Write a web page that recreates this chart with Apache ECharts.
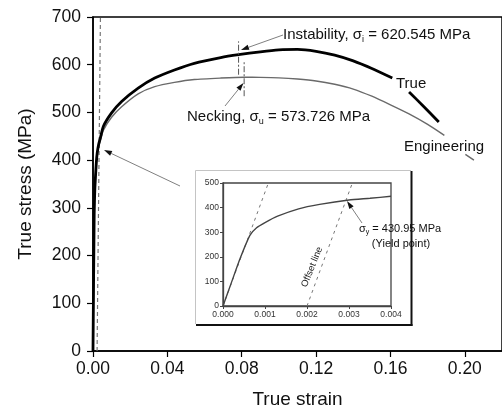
<!DOCTYPE html>
<html><head><meta charset="utf-8">
<script src="https://cdn.jsdelivr.net/npm/echarts@6/dist/echarts.min.js"></script>
<style>html,body{margin:0;padding:0;background:#fff}#c{width:502px;height:414px}</style>
</head><body><div id="c"></div>
<script>
const FONT = '"Liberation Sans", Arial, Helvetica, sans-serif';

// ---- data (strain, stress in MPa); null = gap for label ----
const trueStrain = [0, 0.00064, 0.001, 0.0018, 0.0023, 0.003, 0.004, 0.0056, 0.010, 0.0154, 0.0243, 0.0332, 0.0438, 0.0545, 0.0687, 0.0783, 0.090, 0.100, 0.110, 0.120, 0.130, 0.140, 0.150, 0.161, 0.165, 0.170, 0.178, 0.186];
const trueStress = [0, 287, 341, 396, 416, 432, 447, 471, 499, 523, 551, 572, 589, 603, 615, 621, 627, 631, 632, 628, 620, 608, 592, 572, null, 543, 512, 480];

const engStrain = [0, 0.00064, 0.001, 0.0018, 0.0023, 0.003, 0.004, 0.0056, 0.010, 0.0154, 0.0243, 0.0332, 0.0438, 0.0545, 0.0687, 0.0813, 0.090, 0.100, 0.110, 0.120, 0.130, 0.140, 0.150, 0.160, 0.170, 0.180, 0.189, 0.195, 0.2003, 0.2049];
const engStress = [0, 286, 340, 394, 413, 428, 442, 463, 490, 512, 539, 554, 563, 569, 572, 573.7, 573.5, 572.5, 570, 566, 559, 549, 534, 516, 497, 475, 452, null, 412, 400];

const offsetMainStrain = [0.0022, 0.0040];
const offsetMainStress = [0, 700];

const instabilityStrain = [0.0783, 0.0783];
const instabilityStress = [579, 649];
const neckingStrain = [0.0813, 0.0813];
const neckingStress = [534, 607];

// inset
const insetStrain = [0, 0.0002, 0.0004, 0.00064, 0.0008, 0.001, 0.0013, 0.0018, 0.0023, 0.003, 0.0035, 0.004];
const insetStress = [0, 95, 190, 287, 318, 339, 365, 395, 413, 431, 438, 446];
const elasticStrain = [0, 0.00108];
const elasticStress = [0, 500];
const offsetInsetStrain = [0.002, 0.00308];
const offsetInsetStress = [0, 500];

const mainYTicks = [0, 100, 200, 300, 400, 500, 600, 700];
const mainXTicks = ['0.00', '0.04', '0.08', '0.12', '0.16', '0.20'];
const insetYTicks = [0, 100, 200, 300, 400, 500];
const insetXTicks = ['0.000', '0.001', '0.002', '0.003', '0.004'];

function pairs(xs, ys) { return xs.map((x, i) => [x, ys[i] === null ? '-' : ys[i]]); }

function arrow(x1, y1, x2, y2) {
  const dx = x2 - x1, dy = y2 - y1, L = Math.hypot(dx, dy);
  const ux = dx / L, uy = dy / L, hl = 8, hw = 2.6;
  const bx = x2 - ux * hl, by = y2 - uy * hl;
  return [
    { type: 'line', z: 100, shape: { x1: x1, y1: y1, x2: bx, y2: by }, style: { stroke: '#808080', lineWidth: 1 } },
    { type: 'polygon', z: 100, shape: { points: [[x2, y2], [bx - uy * hw, by + ux * hw], [bx + uy * hw, by - ux * hw]] }, style: { fill: '#111' } }
  ];
}

const chart = echarts.init(document.getElementById('c'), null, { renderer: 'canvas' });

const annFont = 15;
const graphics = [
  // inset frame
  { type: 'line', z: 1, shape: { x1: 195.5, y1: 170.5, x2: 411, y2: 170.5 }, style: { stroke: '#c4c4c4', lineWidth: 1 } },
  { type: 'line', z: 1, shape: { x1: 195.5, y1: 170.5, x2: 195.5, y2: 324 }, style: { stroke: '#c4c4c4', lineWidth: 1 } },
  { type: 'line', z: 1, shape: { x1: 411.5, y1: 171, x2: 411.5, y2: 326 }, style: { stroke: '#111', lineWidth: 2 } },
  { type: 'line', z: 1, shape: { x1: 196, y1: 325, x2: 412.5, y2: 325 }, style: { stroke: '#111', lineWidth: 2 } },
  // texts
  { type: 'text', z: 100, x: 283, y: 35, style: {
      text: '{n|Instability, σ}{s|i}{n| = 620.545 MPa}', verticalAlign: 'middle',
      rich: { n: { fontSize: annFont, fontFamily: FONT, fill: '#111' }, s: { fontSize: 9, fontFamily: FONT, fill: '#111', padding: [9, 0, 0, 0] } } } },
  { type: 'text', z: 100, x: 187, y: 117, style: {
      text: '{n|Necking, σ}{s|u}{n| = 573.726 MPa}', verticalAlign: 'middle',
      rich: { n: { fontSize: annFont, fontFamily: FONT, fill: '#111' }, s: { fontSize: 9, fontFamily: FONT, fill: '#111', padding: [9, 0, 0, 0] } } } },
  { type: 'text', z: 100, x: 396, y: 84, style: { text: 'True', fontSize: annFont, fontFamily: FONT, fill: '#111', verticalAlign: 'middle' } },
  { type: 'text', z: 100, x: 404, y: 147, style: { text: 'Engineering', fontSize: annFont, fontFamily: FONT, fill: '#111', verticalAlign: 'middle' } },
  { type: 'text', z: 100, x: 359, y: 229, style: {
      text: '{n|σ}{s|y}{n| = 430.95 MPa}', verticalAlign: 'middle',
      rich: { n: { fontSize: 11, fontFamily: FONT, fill: '#111' }, s: { fontSize: 7, fontFamily: FONT, fill: '#111', padding: [6, 0, 0, 0] } } } },
  { type: 'text', z: 100, x: 401, y: 244, style: { text: '(Yield point)', fontSize: 11, fontFamily: FONT, fill: '#111', align: 'center', verticalAlign: 'middle' } },
  { type: 'text', z: 100, x: 312, y: 267, rotation: 68 * Math.PI / 180, style: { text: 'Offset line', fontSize: 9.5, fontFamily: FONT, fill: '#222', align: 'center', verticalAlign: 'middle' } }
].concat(
  arrow(283, 35, 241, 50),
  arrow(225, 106, 243.5, 83),
  arrow(180, 186, 104, 150),
  arrow(362, 223, 347, 201)
);

const option = {
  animation: false,
  backgroundColor: '#fff',
  textStyle: { fontFamily: FONT },
  grid: [
    { left: 93, top: 17, width: 412.5, height: 335.5, show: true, borderColor: '#000', borderWidth: 1.5, backgroundColor: 'transparent' },
    { left: 223, top: 183, width: 168, height: 123, show: true, borderColor: '#444', borderWidth: 1.3, backgroundColor: 'transparent' }
  ],
  xAxis: [
    { gridIndex: 0, type: 'value', min: 0, max: 0.22, interval: 0.04,
      name: 'True strain', nameLocation: 'middle', nameGap: 39,
      nameTextStyle: { fontSize: 19, color: '#111', fontFamily: FONT },
      axisLine: { show: true, onZero: false, lineStyle: { color: '#000', width: 1.5 } },
      axisTick: { show: true, inside: false, length: 6, lineStyle: { color: '#000', width: 1.2 } },
      axisLabel: { fontSize: 17.5, color: '#111', margin: 9, fontFamily: FONT, showMaxLabel: false,
        formatter: v => { const s = v.toFixed(2); return mainXTicks.indexOf(s) >= 0 ? s : ''; } },
      splitLine: { show: false } },
    { gridIndex: 1, type: 'value', min: 0, max: 0.004, interval: 0.001,
      axisLine: { show: true, onZero: false, lineStyle: { color: '#444', width: 1.3 } },
      axisTick: { show: true, length: 3, lineStyle: { color: '#444' } },
      axisLabel: { fontSize: 8.5, color: '#333', margin: 4, fontFamily: FONT,
        formatter: v => { const s = v.toFixed(3); return insetXTicks.indexOf(s) >= 0 ? s : ''; } },
      splitLine: { show: false } }
  ],
  yAxis: [
    { gridIndex: 0, type: 'value', min: 0, max: 700, interval: 100,
      name: 'True stress (MPa)', nameLocation: 'middle', nameGap: 58,
      nameTextStyle: { fontSize: 19, color: '#111', fontFamily: FONT },
      axisLine: { show: true, onZero: false, lineStyle: { color: '#000', width: 1.5 } },
      axisTick: { show: true, length: 6, lineStyle: { color: '#000', width: 1.2 } },
      axisLabel: { fontSize: 17.5, color: '#111', margin: 12, fontFamily: FONT,
        formatter: v => mainYTicks.indexOf(Math.round(v)) >= 0 ? String(Math.round(v)) : '' },
      splitLine: { show: false } },
    { gridIndex: 1, type: 'value', min: 0, max: 500, interval: 100,
      axisLine: { show: true, onZero: false, lineStyle: { color: '#444', width: 1.3 } },
      axisTick: { show: true, length: 3, lineStyle: { color: '#444' } },
      axisLabel: { fontSize: 8.5, color: '#333', margin: 4, fontFamily: FONT,
        formatter: v => insetYTicks.indexOf(Math.round(v)) >= 0 ? String(Math.round(v)) : '' },
      splitLine: { show: false } }
  ],
  series: [
    { type: 'line', xAxisIndex: 0, yAxisIndex: 0, data: pairs(offsetMainStrain, offsetMainStress), symbol: 'none',
      lineStyle: { color: '#777', width: 1.2, type: [4, 3] }, z: 2 },
    { type: 'line', xAxisIndex: 0, yAxisIndex: 0, data: pairs(engStrain, engStress), symbol: 'none', smooth: 0.2, connectNulls: false,
      lineStyle: { color: '#6a6a6a', width: 1.4 }, z: 3 },
    { type: 'line', xAxisIndex: 0, yAxisIndex: 0, data: pairs(trueStrain, trueStress), symbol: 'none', smooth: 0.2, connectNulls: false,
      lineStyle: { color: '#000', width: 2.8 }, z: 4 },
    { type: 'line', xAxisIndex: 0, yAxisIndex: 0, data: pairs(instabilityStrain, instabilityStress), symbol: 'none',
      lineStyle: { color: '#555', width: 1, type: [6, 2, 2, 2] }, z: 5 },
    { type: 'line', xAxisIndex: 0, yAxisIndex: 0, data: pairs(neckingStrain, neckingStress), symbol: 'none',
      lineStyle: { color: '#555', width: 1, type: [6, 2, 2, 2] }, z: 5 },
    { type: 'line', xAxisIndex: 1, yAxisIndex: 1, data: pairs(elasticStrain, elasticStress), symbol: 'none',
      lineStyle: { color: '#777', width: 1, type: [3, 4] }, z: 2 },
    { type: 'line', xAxisIndex: 1, yAxisIndex: 1, data: pairs(offsetInsetStrain, offsetInsetStress), symbol: 'none',
      lineStyle: { color: '#777', width: 1, type: [3, 4] }, z: 2 },
    { type: 'line', xAxisIndex: 1, yAxisIndex: 1, data: pairs(insetStrain, insetStress), symbol: 'none', smooth: 0.2,
      lineStyle: { color: '#444', width: 1.4 }, z: 3 }
  ],
  graphic: graphics
};
chart.setOption(option);
</script>
</body></html>
